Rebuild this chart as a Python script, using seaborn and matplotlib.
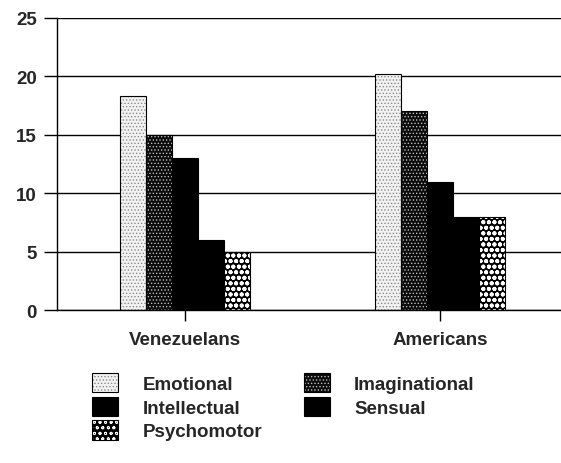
import pandas as pd
import numpy as np
from matplotlib import pyplot as plt
from matplotlib import colors as mcolors
from matplotlib.patches import Patch
import seaborn as sns

groups = ['Venezuelans', 'Americans']
kinds = ['Emotional', 'Imaginational', 'Intellectual', 'Sensual', 'Psychomotor']
venezuelans = [18.3, 15, 13, 6, 5]
americans = [20.2, 17, 11, 8, 8]

rows = []
for g, vals in zip(groups, [venezuelans, americans]):
    for k, v in zip(kinds, vals):
        rows.append({'group': g, 'kind': k, 'value': v})
df = pd.DataFrame(rows)

# fill, hatch, hatch colour, hatch width for each kind
styles = {
    'Emotional': ('#f2f2f2', '.....', '#8a8a8a', 0.6),
    'Imaginational': ('#0a0a0a', '.....', '#bdbdbd', 0.6),
    'Intellectual': ('#000000', '', '#000000', 0.6),
    'Sensual': ('#000000', '', '#000000', 0.6),
    'Psychomotor': ('#000000', 'ooo', '#ffffff', 1.3),
}

sns.set_style('white')
plt.rcParams['font.family'] = ['Liberation Sans', 'DejaVu Sans']
plt.rcParams['font.weight'] = 'bold'
plt.rcParams['hatch.linewidth'] = 0.6


def style_patch(p, k):
    fc, hatch, hc, hw = styles[k]
    p.set_facecolor(fc)
    p.set_edgecolor('black')
    p.set_linewidth(0.8)
    p.set_hatch(hatch)
    p._hatch_color = mcolors.to_rgba(hc)
    if hasattr(p, 'set_hatch_linewidth'):
        p.set_hatch_linewidth(hw)
    else:
        p._hatch_linewidth = hw


fig = plt.figure(figsize=(5.61, 4.64), dpi=100)
ax = fig.add_axes([57 / 561, 153 / 464, 504 / 561, 292 / 464])

sns.barplot(data=df, x='group', y='value', hue='kind', order=groups, hue_order=kinds,
            width=0.51, palette=['#000000'] * 5, saturation=1, legend=False, ax=ax)

for i, k in enumerate(kinds):
    for p in ax.containers[i]:
        style_patch(p, k)

ax.set_ylim(0, 25)
ax.set_xlim(-0.5, 1.475)
ax.set_yticks([0, 5, 10, 15, 20, 25])
ax.yaxis.grid(True, color='black', linewidth=1)
ax.set_axisbelow(True)
ax.set_xlabel('')
ax.set_ylabel('')
for s in ['top', 'right']:
    ax.spines[s].set_visible(False)
for s in ['left', 'bottom']:
    ax.spines[s].set_color('black')
    ax.spines[s].set_linewidth(1)
ax.tick_params(axis='y', length=9.5, width=1, color='black', labelsize=13.5, pad=5, direction='out', left=True)
ax.tick_params(axis='x', length=8, width=1, color='black', labelsize=13.5, pad=7, direction='out', bottom=True)
for t in ax.get_xticklabels() + ax.get_yticklabels():
    t.set_fontweight('bold')

handles = []
for k in kinds:
    h = Patch(label=k)
    style_patch(h, k)
    handles.append(h)
order = [0, 2, 4, 1, 3]
leg = fig.legend([handles[i] for i in order], [kinds[i] for i in order], ncol=2,
                 loc='upper left', bbox_to_anchor=(92 / 561, 1 - 374 / 464), frameon=False,
                 fontsize=13.5, handlelength=1.4, handleheight=1.2, handletextpad=1.3,
                 labelspacing=0.2, columnspacing=2.2, borderpad=0, borderaxespad=0)
for t in leg.get_texts():
    t.set_fontweight('bold')

fig.savefig('out.png', dpi=100)
